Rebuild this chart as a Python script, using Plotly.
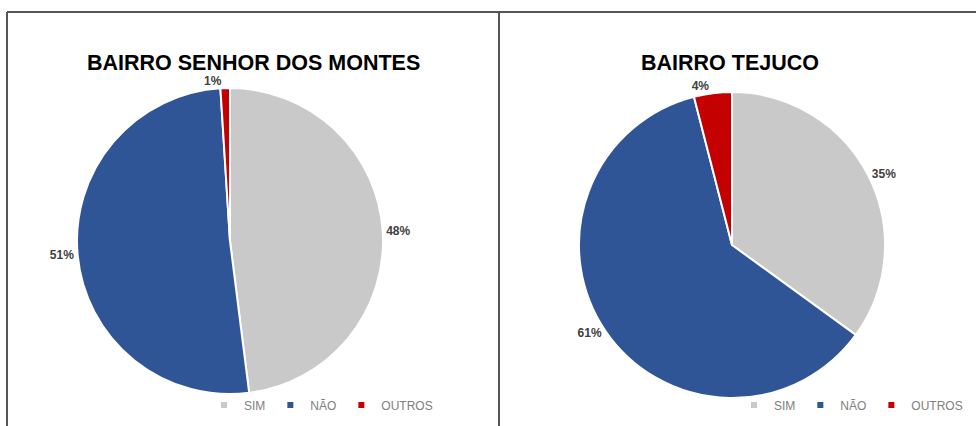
import plotly.graph_objects as go

# ---- data ----
categories = ["SIM", "NÃO", "OUTROS"]
senhor_values = [48, 51, 1]
tejuco_values = [35, 61, 4]
titles = ["BAIRRO SENHOR DOS MONTES", "BAIRRO TEJUCO"]
colors = ["#C9C9C9", "#2F5597", "#C40000"]

W, H = 976, 426

def px(x):
    return x / W

def py(y):
    return 1 - y / H

fig = go.Figure()

pies = [
    (senhor_values, (230, 241)),
    (tejuco_values, (732, 245)),
]
R = 153
for vals, (cx, cy) in pies:
    fig.add_trace(go.Pie(
        labels=categories,
        values=vals,
        sort=False,
        direction="clockwise",
        rotation=0,
        marker=dict(colors=colors, line=dict(color="white", width=2)),
        texttemplate="%{value}%",
        textposition="outside",
        outsidetextfont=dict(family="Liberation Sans, Arial", size=12, color="#404040", weight="bold"),
        domain=dict(x=[px(cx - R), px(cx + R)], y=[py(cy + R), py(cy - R)]),
        showlegend=False,
        hoverinfo="label+percent",
    ))

# legend entries (small square markers, one legend per panel)
for lg in ["legend", "legend2"]:
    for cat, col in zip(categories, colors):
        fig.add_trace(go.Scatter(
            x=[None], y=[None], mode="markers", name=cat,
            marker=dict(symbol="square", size=6, color=col),
            legend=lg, showlegend=True, hoverinfo="skip",
        ))

legend_common = dict(
    orientation="h", yanchor="middle", xanchor="right",
    font=dict(family="Liberation Sans, Arial", size=12, color="#808080"),
    bgcolor="rgba(0,0,0,0)", itemwidth=30, itemclick=False,
)

# borders
line_style = dict(color="#555555", width=2)
shapes = [
    dict(type="line", xref="paper", yref="paper", x0=px(7), x1=1.0, y0=py(12), y1=py(12), line=line_style),
    dict(type="line", xref="paper", yref="paper", x0=px(7), x1=px(7), y0=py(12), y1=0, line=line_style),
    dict(type="line", xref="paper", yref="paper", x0=px(499), x1=px(499), y0=py(12), y1=0, line=line_style),
]

title_font = dict(family="Liberation Sans, Arial", size=21.5, color="#000000", weight="bold")
annotations = [
    dict(text=titles[0], x=px(253), y=py(62.5), xref="paper", yref="paper", showarrow=False,
         xanchor="center", yanchor="middle", font=title_font),
    dict(text=titles[1], x=px(730), y=py(63), xref="paper", yref="paper", showarrow=False,
         xanchor="center", yanchor="middle", font=title_font),
]

fig.update_layout(
    width=W, height=H,
    margin=dict(l=0, r=0, t=0, b=0),
    paper_bgcolor="white", plot_bgcolor="white",
    xaxis=dict(visible=False), yaxis=dict(visible=False),
    shapes=shapes, annotations=annotations,
    legend=dict(x=px(438), y=py(405), **legend_common),
    legend2=dict(x=px(968), y=py(405), **legend_common),
)

fig.write_html("out.html")
